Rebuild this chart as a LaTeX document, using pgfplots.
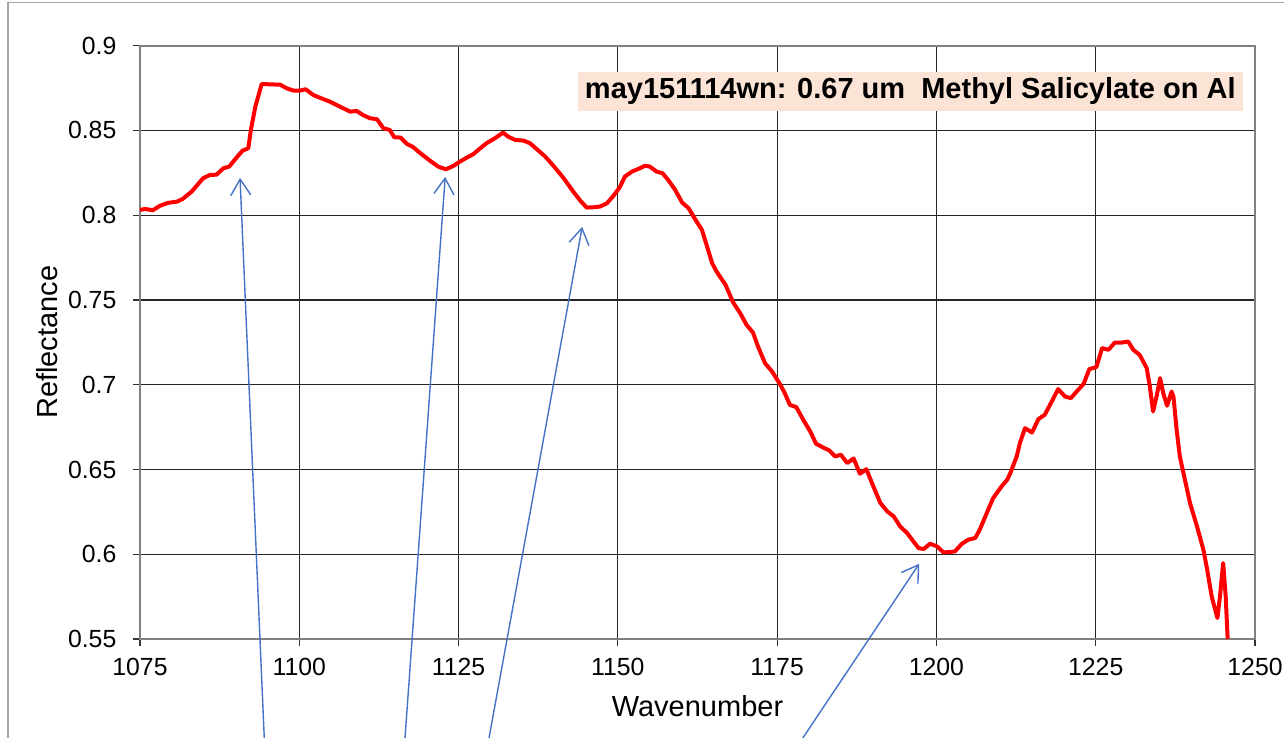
\documentclass[border=0pt]{standalone}
\usepackage{fontspec}
\setmainfont{Liberation Sans}
\usepackage{pgfplots}
\pgfplotsset{compat=1.18}
\usetikzlibrary{arrows.meta}
\definecolor{peach}{RGB}{251,228,213}
\definecolor{arrowblue}{RGB}{68,114,196}
\definecolor{framegray}{RGB}{165,165,165}
\definecolor{axgray}{RGB}{128,128,128}
\begin{document}
\begin{tikzpicture}
\useasboundingbox (-70pt,-49.5pt) rectangle (572pt,319.5pt);
\clip (-70pt,-49.5pt) rectangle (572pt,319.5pt);
\draw[framegray, line width=0.8pt] (-66pt,-60pt) -- (-66pt,318.3pt) -- (580pt,318.3pt);
\begin{axis}[
  scale only axis, width=557.5pt, height=296.65pt,
  xmin=1075, xmax=1250, ymin=0.55, ymax=0.9,
  xtick={1075,1100,1125,1150,1175,1200,1225,1250},
  ytick={0.55,0.6,0.65,0.7,0.75,0.8,0.85,0.9},
  grid=major, major grid style={black!85, line width=0.6pt},
  axis line style={axgray, line width=0.9pt},
  tick align=outside, tick pos=left, major tick length=3.5pt,
  tick style={black!80, line width=0.6pt},
  /pgf/number format/assume math mode=true,
  /pgf/number format/1000 sep={},
  ticklabel style={font=\fontsize{12.4}{14}\selectfont},
  yticklabel style={xshift=-4.8pt},
  xticklabel style={yshift=-2.5pt},
  xlabel={Wavenumber}, ylabel={Reflectance},
  label style={font=\fontsize{14.5}{17}\selectfont},
  xlabel style={at={(axis description cs:0.5,-0.113)}, anchor=center},
  ylabel style={at={(axis description cs:-0.0834,0.5)}, anchor=center},
  clip=false,
]
\addplot[red, line width=2pt, line join=round] table {
1075.0 0.8031
1075.8 0.8037
1077.0 0.8029
1078.1 0.8055
1079.4 0.8073
1080.8 0.8080
1081.7 0.8096
1083.1 0.8139
1084.9 0.8218
1086.0 0.8238
1087.0 0.8239
1088.1 0.8277
1089.0 0.8287
1090.2 0.8342
1091.1 0.8381
1092.0 0.8395
1092.4 0.8503
1093.1 0.8640
1094.1 0.8774
1095.4 0.8772
1097.0 0.8770
1098.0 0.8749
1099.1 0.8735
1100.1 0.8735
1101.0 0.8743
1102.2 0.8709
1103.3 0.8692
1104.8 0.8670
1106.4 0.8640
1108.0 0.8611
1109.0 0.8615
1110.0 0.8591
1111.1 0.8572
1112.2 0.8566
1113.2 0.8513
1114.2 0.8503
1114.9 0.8460
1115.9 0.8458
1116.9 0.8420
1117.8 0.8404
1119.0 0.8366
1120.5 0.8322
1121.8 0.8287
1123.0 0.8271
1124.2 0.8291
1125.2 0.8316
1126.3 0.8340
1127.3 0.8360
1128.4 0.8395
1129.4 0.8425
1130.7 0.8454
1132.0 0.8487
1132.8 0.8463
1133.9 0.8444
1135.2 0.8440
1136.2 0.8425
1137.3 0.8389
1138.6 0.8346
1139.9 0.8291
1141.5 0.8218
1143.0 0.8139
1144.1 0.8086
1145.1 0.8045
1146.2 0.8047
1147.2 0.8051
1148.3 0.8071
1149.3 0.8114
1150.3 0.8165
1151.1 0.8228
1152.2 0.8257
1153.2 0.8273
1154.3 0.8292
1155.0 0.8287
1156.1 0.8257
1157.0 0.8248
1157.9 0.8208
1159.0 0.8149
1160.1 0.8074
1161.1 0.8041
1162.2 0.7972
1163.2 0.7913
1164.0 0.7815
1164.8 0.7717
1165.5 0.7667
1166.9 0.7589
1168.1 0.7485
1169.2 0.7422
1170.2 0.7353
1171.2 0.7308
1172.0 0.7225
1173.1 0.7127
1174.2 0.7078
1175.5 0.7000
1176.2 0.6950
1177.0 0.6881
1178.0 0.6868
1179.1 0.6793
1180.2 0.6724
1181.1 0.6652
1182.2 0.6630
1183.2 0.6612
1184.1 0.6577
1185.0 0.6587
1186.0 0.6538
1187.0 0.6565
1188.0 0.6475
1189.0 0.6502
1190.1 0.6400
1191.2 0.6302
1192.3 0.6252
1193.3 0.6223
1194.3 0.6164
1195.4 0.6125
1196.4 0.6075
1197.2 0.6036
1198.0 0.6031
1199.0 0.6062
1200.1 0.6046
1201.1 0.6011
1202.1 0.6013
1202.9 0.6017
1204.0 0.6062
1205.0 0.6086
1206.1 0.6096
1206.8 0.6145
1207.9 0.6243
1208.9 0.6331
1210.3 0.6404
1211.1 0.6439
1211.6 0.6479
1212.6 0.6577
1213.1 0.6656
1213.9 0.6744
1215.0 0.6718
1216.0 0.6797
1217.0 0.6823
1218.1 0.6901
1219.1 0.6974
1220.2 0.6930
1221.1 0.6921
1222.0 0.6960
1223.1 0.7005
1224.0 0.7092
1225.1 0.7104
1226.0 0.7216
1227.0 0.7206
1228.0 0.7249
1229.1 0.7249
1230.1 0.7255
1230.9 0.7206
1231.9 0.7176
1233.0 0.7098
1233.5 0.6989
1234.0 0.6842
1234.6 0.6940
1235.1 0.7039
1235.6 0.6950
1236.2 0.6876
1236.9 0.6960
1237.2 0.6930
1237.7 0.6734
1238.2 0.6577
1239.0 0.6439
1239.8 0.6302
1240.9 0.6164
1241.9 0.6026
1242.5 0.5908
1243.2 0.5751
1244.1 0.5624
1244.5 0.5751
1245.0 0.5948
1245.4 0.5751
1245.7 0.5506
1245.75 0.55
};
\node[fill=peach, inner xsep=3.5pt, inner ysep=2.9pt, text height=10.6pt, text depth=3.1pt,
      font=\bfseries\fontsize{14.5}{17}\selectfont, anchor=center]
  at (axis cs:1195.9,0.873) {may151114wn: 0.67 um\ \ Methyl Salicylate on Al};
\begin{scope}[arrowblue, line width=0.7pt]
\draw[-{Straight Barb[length=8pt,width=10pt]}] (axis cs:1094.73,0.472) -- (axis cs:1090.7,0.822);
\draw[-{Straight Barb[length=8pt,width=10pt]}] (axis cs:1116.22,0.472) -- (axis cs:1122.9,0.8226);
\draw[-{Straight Barb[length=8pt,width=10pt]}] (axis cs:1128.83,0.472) -- (axis cs:1144.4,0.7931);
\draw[-{Straight Barb[length=8pt,width=10pt]}] (axis cs:1175.55,0.472) -- (axis cs:1197.3,0.5944);
\end{scope}
\end{axis}
\end{tikzpicture}
\end{document}
